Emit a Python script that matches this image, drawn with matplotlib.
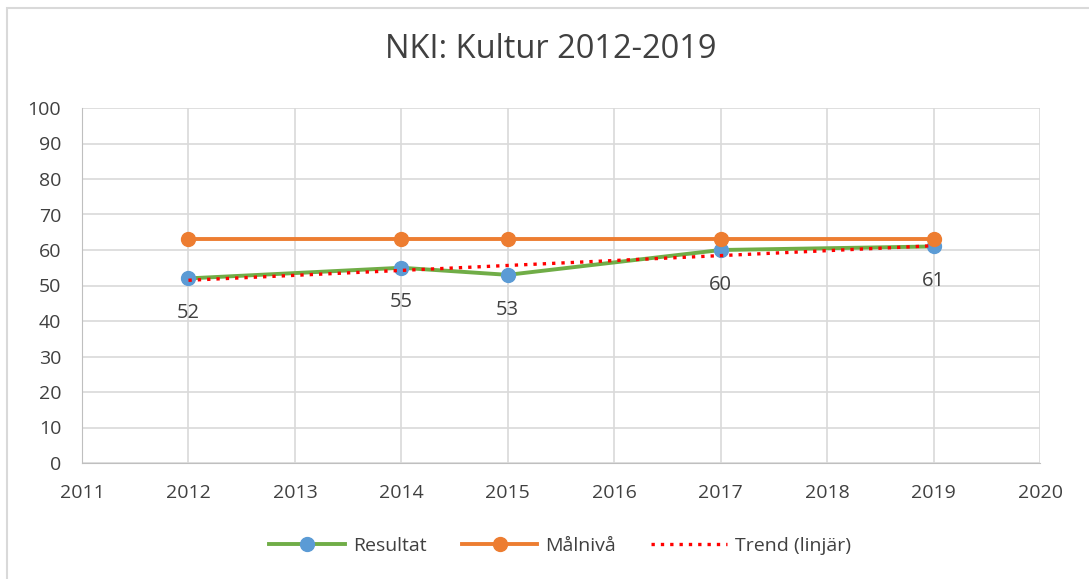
import matplotlib
matplotlib.use("Agg")
import matplotlib.pyplot as plt
import numpy as np
from matplotlib.patches import Rectangle

plt.rcParams['font.family'] = ['Open Sans', 'DejaVu Sans']

title = "NKI: Kultur 2012-2019"
years = [2012, 2014, 2015, 2017, 2019]
resultat = [52, 55, 53, 60, 61]
malniva = [63, 63, 63, 63, 63]
x_ticks = list(range(2011, 2021))
y_ticks = list(range(0, 101, 10))

W, H = 1089, 579
fig = plt.figure(figsize=(W/100, H/100), dpi=100)
ax = fig.add_axes([82/W, 1-463/H, (1040-82)/W, (463-108)/H])

# outer border
fig.patches.append(Rectangle((7/W, -0.1), 1.2, 1 - 8/H + 0.1, transform=fig.transFigure,
                             fill=False, edgecolor='#d9d9d9', linewidth=1.5))

green = '#70ad47'
blue = '#5b9bd5'
orange = '#ed7d31'
txt = '#404040'

ax.plot(years, resultat, color=green, lw=2.8, marker='o', ms=10,
        mfc=blue, mec=blue, label='Resultat', zorder=3)
ax.plot(years, malniva, color=orange, lw=2.8, marker='o', ms=10,
        mfc=orange, mec=orange, label='Målnivå', zorder=3)

coef = np.polyfit(years, resultat, 1)
tx = np.array([years[0], years[-1]])
ax.plot(tx, np.polyval(coef, tx), color='red', lw=2.4, ls=(0, (1, 1.8)),
        label='Trend (linjär)', zorder=4)

for xv, yv in zip(years, resultat):
    ax.annotate(str(yv), (xv, yv), xytext=(0, -25), textcoords='offset points',
                ha='center', va='center', fontsize=14.5, color=txt)

ax.set_xlim(2011, 2020)
ax.set_ylim(0, 100)
ax.set_xticks(x_ticks)
ax.set_yticks(y_ticks)
ax.grid(True, color='#d9d9d9', lw=1.2)
ax.set_axisbelow(True)
for s in ['top', 'right']:
    ax.spines[s].set_visible(False)
for s in ['left', 'bottom']:
    ax.spines[s].set_color('#bfbfbf')
ax.tick_params(length=0, labelsize=14, colors=txt)
ax.tick_params(axis='y', pad=15)
ax.tick_params(axis='x', pad=15)

fig.text(551/W, 1-50/H, title, ha='center', va='center', fontsize=23.5, color=txt)

fig.legend(loc='center', bbox_to_anchor=(560/W, 1-546/H), ncol=3, frameon=False,
           fontsize=14, labelcolor=txt, handlelength=3.9, columnspacing=1.8,
           handletextpad=0.4)

fig.savefig('out.png', dpi=100)
